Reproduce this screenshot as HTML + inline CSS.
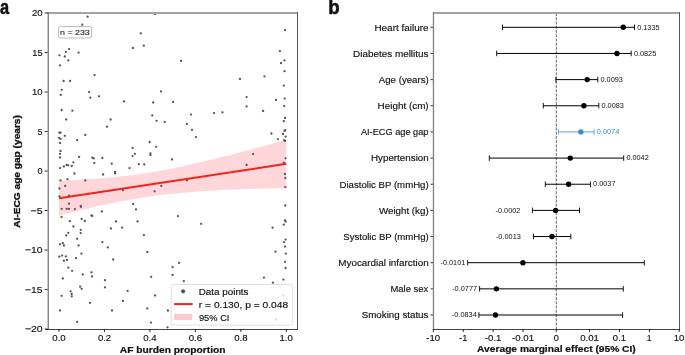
<!DOCTYPE html>
<html><head><meta charset="utf-8"><style>
html,body{margin:0;padding:0;background:#fff;}
body{width:685px;height:355px;overflow:hidden;}
svg{display:block;will-change:transform;font-family:"Liberation Sans",sans-serif;}
</style></head><body>
<svg width="685" height="355" viewBox="0 0 685 355">
<rect width="685" height="355" fill="#fff"/>
<polygon fill="#ffd6da" points="59.00,180.76 64.68,180.50 70.36,180.23 76.05,179.92 81.73,179.59 87.41,179.24 93.09,178.85 98.78,178.42 104.46,177.96 110.14,177.45 115.83,176.90 121.51,176.30 127.19,175.65 132.87,174.94 138.56,174.18 144.24,173.36 149.92,172.48 155.60,171.54 161.28,170.54 166.97,169.49 172.65,168.38 178.33,167.23 184.02,166.02 189.70,164.78 195.38,163.49 201.06,162.17 206.75,160.82 212.43,159.43 218.11,158.02 223.79,156.59 229.47,155.13 235.16,153.66 240.84,152.16 246.52,150.65 252.21,149.13 257.89,147.59 263.57,146.05 269.25,144.49 274.94,142.92 280.62,141.34 286.30,139.76 286.30,187.97 280.62,188.11 274.94,188.25 269.25,188.40 263.57,188.56 257.89,188.73 252.21,188.91 246.52,189.11 240.84,189.32 235.16,189.55 229.47,189.79 223.79,190.05 218.11,190.34 212.43,190.65 206.75,190.98 201.06,191.35 195.38,191.75 189.70,192.18 184.02,192.66 178.33,193.17 172.65,193.74 166.97,194.35 161.28,195.02 155.60,195.74 149.92,196.52 144.24,197.36 138.56,198.26 132.87,199.21 127.19,200.22 121.51,201.29 115.83,202.41 110.14,203.58 104.46,204.79 98.78,206.05 93.09,207.34 87.41,208.67 81.73,210.04 76.05,211.43 70.36,212.84 64.68,214.28 59.00,215.75"/>
<line x1="59.0" y1="198.25" x2="286.3" y2="163.86" stroke="#f5221a" stroke-width="2"/>
<g fill="#555">
<circle cx="87.6" cy="16.7" r="1.15"/>
<circle cx="82.2" cy="24.7" r="1.15"/>
<circle cx="140.8" cy="33.3" r="1.15"/>
<circle cx="69.0" cy="49.1" r="1.15"/>
<circle cx="65.9" cy="51.9" r="1.15"/>
<circle cx="78.6" cy="52.6" r="1.15"/>
<circle cx="59.4" cy="55.3" r="1.15"/>
<circle cx="64.8" cy="56.5" r="1.15"/>
<circle cx="132.9" cy="48.0" r="1.15"/>
<circle cx="143.8" cy="45.7" r="1.15"/>
<circle cx="68.3" cy="60.4" r="1.15"/>
<circle cx="60.0" cy="65.3" r="1.15"/>
<circle cx="155.1" cy="13.9" r="1.15"/>
<circle cx="181.0" cy="60.9" r="1.15"/>
<circle cx="285.0" cy="30.2" r="1.15"/>
<circle cx="279.9" cy="51.1" r="1.15"/>
<circle cx="284.5" cy="60.4" r="1.15"/>
<circle cx="281.0" cy="63.2" r="1.15"/>
<circle cx="94.6" cy="75.1" r="1.15"/>
<circle cx="63.6" cy="81.0" r="1.15"/>
<circle cx="70.1" cy="81.0" r="1.15"/>
<circle cx="61.7" cy="89.8" r="1.15"/>
<circle cx="60.8" cy="94.9" r="1.15"/>
<circle cx="89.2" cy="92.1" r="1.15"/>
<circle cx="90.3" cy="97.6" r="1.15"/>
<circle cx="99.0" cy="96.3" r="1.15"/>
<circle cx="124.1" cy="101.4" r="1.15"/>
<circle cx="61.7" cy="110.0" r="1.15"/>
<circle cx="72.4" cy="110.7" r="1.15"/>
<circle cx="66.2" cy="119.5" r="1.15"/>
<circle cx="110.6" cy="119.5" r="1.15"/>
<circle cx="240.0" cy="79.0" r="1.15"/>
<circle cx="161.0" cy="91.4" r="1.15"/>
<circle cx="153.2" cy="102.5" r="1.15"/>
<circle cx="173.2" cy="101.9" r="1.15"/>
<circle cx="152.3" cy="115.4" r="1.15"/>
<circle cx="191.0" cy="114.6" r="1.15"/>
<circle cx="214.0" cy="113.1" r="1.15"/>
<circle cx="222.5" cy="112.3" r="1.15"/>
<circle cx="284.5" cy="71.2" r="1.15"/>
<circle cx="264.4" cy="76.3" r="1.15"/>
<circle cx="283.8" cy="85.6" r="1.15"/>
<circle cx="246.6" cy="97.1" r="1.15"/>
<circle cx="276.0" cy="99.9" r="1.15"/>
<circle cx="284.8" cy="98.6" r="1.15"/>
<circle cx="246.6" cy="106.4" r="1.15"/>
<circle cx="284.2" cy="106.1" r="1.15"/>
<circle cx="263.1" cy="111.0" r="1.15"/>
<circle cx="285.0" cy="118.0" r="1.15"/>
<circle cx="156.6" cy="120.8" r="1.15"/>
<circle cx="164.7" cy="121.9" r="1.15"/>
<circle cx="107.0" cy="126.7" r="1.15"/>
<circle cx="59.3" cy="132.7" r="1.15"/>
<circle cx="60.5" cy="132.7" r="1.15"/>
<circle cx="64.8" cy="135.8" r="1.15"/>
<circle cx="85.3" cy="135.0" r="1.15"/>
<circle cx="59.0" cy="137.8" r="1.15"/>
<circle cx="60.5" cy="138.9" r="1.15"/>
<circle cx="77.2" cy="140.2" r="1.15"/>
<circle cx="60.0" cy="143.0" r="1.15"/>
<circle cx="132.6" cy="147.9" r="1.15"/>
<circle cx="60.5" cy="151.0" r="1.15"/>
<circle cx="60.0" cy="153.8" r="1.15"/>
<circle cx="134.9" cy="153.8" r="1.15"/>
<circle cx="60.0" cy="157.5" r="1.15"/>
<circle cx="79.1" cy="156.9" r="1.15"/>
<circle cx="92.3" cy="157.7" r="1.15"/>
<circle cx="93.8" cy="158.4" r="1.15"/>
<circle cx="102.4" cy="158.0" r="1.15"/>
<circle cx="132.6" cy="156.1" r="1.15"/>
<circle cx="94.3" cy="163.1" r="1.15"/>
<circle cx="111.7" cy="163.7" r="1.15"/>
<circle cx="138.8" cy="164.2" r="1.15"/>
<circle cx="144.2" cy="164.5" r="1.15"/>
<circle cx="73.4" cy="162.3" r="1.15"/>
<circle cx="60.0" cy="168.1" r="1.15"/>
<circle cx="63.9" cy="166.5" r="1.15"/>
<circle cx="66.7" cy="165.0" r="1.15"/>
<circle cx="68.3" cy="165.3" r="1.15"/>
<circle cx="71.8" cy="166.0" r="1.15"/>
<circle cx="129.5" cy="168.1" r="1.15"/>
<circle cx="74.5" cy="173.5" r="1.15"/>
<circle cx="103.1" cy="174.5" r="1.15"/>
<circle cx="115.1" cy="172.0" r="1.15"/>
<circle cx="115.1" cy="173.5" r="1.15"/>
<circle cx="186.9" cy="123.9" r="1.15"/>
<circle cx="192.0" cy="129.8" r="1.15"/>
<circle cx="195.9" cy="137.1" r="1.15"/>
<circle cx="149.7" cy="142.0" r="1.15"/>
<circle cx="156.2" cy="146.8" r="1.15"/>
<circle cx="150.4" cy="153.3" r="1.15"/>
<circle cx="150.4" cy="154.9" r="1.15"/>
<circle cx="172.1" cy="159.5" r="1.15"/>
<circle cx="283.8" cy="121.2" r="1.15"/>
<circle cx="271.4" cy="133.5" r="1.15"/>
<circle cx="284.5" cy="130.9" r="1.15"/>
<circle cx="285.3" cy="130.1" r="1.15"/>
<circle cx="283.0" cy="134.0" r="1.15"/>
<circle cx="285.6" cy="136.6" r="1.15"/>
<circle cx="277.9" cy="139.1" r="1.15"/>
<circle cx="284.1" cy="140.2" r="1.15"/>
<circle cx="285.0" cy="140.9" r="1.15"/>
<circle cx="253.1" cy="154.1" r="1.15"/>
<circle cx="285.6" cy="158.3" r="1.15"/>
<circle cx="246.6" cy="165.0" r="1.15"/>
<circle cx="283.8" cy="162.6" r="1.15"/>
<circle cx="285.0" cy="174.0" r="1.15"/>
<circle cx="60.5" cy="180.4" r="1.15"/>
<circle cx="67.5" cy="179.2" r="1.15"/>
<circle cx="85.3" cy="180.4" r="1.15"/>
<circle cx="65.2" cy="185.9" r="1.15"/>
<circle cx="59.4" cy="188.5" r="1.15"/>
<circle cx="59.4" cy="196.4" r="1.15"/>
<circle cx="69.0" cy="195.6" r="1.15"/>
<circle cx="123.0" cy="190.2" r="1.15"/>
<circle cx="69.0" cy="203.7" r="1.15"/>
<circle cx="80.7" cy="206.0" r="1.15"/>
<circle cx="81.0" cy="206.8" r="1.15"/>
<circle cx="61.7" cy="208.8" r="1.15"/>
<circle cx="66.7" cy="208.8" r="1.15"/>
<circle cx="69.0" cy="208.8" r="1.15"/>
<circle cx="74.9" cy="209.1" r="1.15"/>
<circle cx="133.1" cy="204.0" r="1.15"/>
<circle cx="136.0" cy="209.4" r="1.15"/>
<circle cx="101.9" cy="211.4" r="1.15"/>
<circle cx="61.6" cy="216.9" r="1.15"/>
<circle cx="91.5" cy="215.3" r="1.15"/>
<circle cx="92.3" cy="216.1" r="1.15"/>
<circle cx="69.8" cy="221.2" r="1.15"/>
<circle cx="81.7" cy="218.9" r="1.15"/>
<circle cx="84.8" cy="221.0" r="1.15"/>
<circle cx="115.9" cy="221.5" r="1.15"/>
<circle cx="137.6" cy="221.5" r="1.15"/>
<circle cx="73.4" cy="226.5" r="1.15"/>
<circle cx="80.7" cy="229.8" r="1.15"/>
<circle cx="110.9" cy="228.5" r="1.15"/>
<circle cx="122.1" cy="227.7" r="1.15"/>
<circle cx="186.9" cy="180.4" r="1.15"/>
<circle cx="161.3" cy="185.9" r="1.15"/>
<circle cx="154.6" cy="191.3" r="1.15"/>
<circle cx="178.0" cy="216.1" r="1.15"/>
<circle cx="201.1" cy="223.8" r="1.15"/>
<circle cx="285.3" cy="178.1" r="1.15"/>
<circle cx="285.3" cy="187.1" r="1.15"/>
<circle cx="285.3" cy="205.5" r="1.15"/>
<circle cx="285.0" cy="220.3" r="1.15"/>
<circle cx="285.6" cy="221.5" r="1.15"/>
<circle cx="283.8" cy="224.6" r="1.15"/>
<circle cx="272.6" cy="227.7" r="1.15"/>
<circle cx="80.7" cy="233.1" r="1.15"/>
<circle cx="68.3" cy="232.8" r="1.15"/>
<circle cx="66.2" cy="235.4" r="1.15"/>
<circle cx="77.1" cy="238.8" r="1.15"/>
<circle cx="143.9" cy="235.1" r="1.15"/>
<circle cx="60.0" cy="244.3" r="1.15"/>
<circle cx="62.8" cy="243.2" r="1.15"/>
<circle cx="63.9" cy="245.5" r="1.15"/>
<circle cx="78.6" cy="245.5" r="1.15"/>
<circle cx="102.4" cy="242.1" r="1.15"/>
<circle cx="107.8" cy="247.4" r="1.15"/>
<circle cx="81.4" cy="253.6" r="1.15"/>
<circle cx="59.3" cy="256.7" r="1.15"/>
<circle cx="62.1" cy="255.6" r="1.15"/>
<circle cx="65.9" cy="256.4" r="1.15"/>
<circle cx="76.0" cy="258.2" r="1.15"/>
<circle cx="63.9" cy="260.7" r="1.15"/>
<circle cx="67.0" cy="259.9" r="1.15"/>
<circle cx="113.2" cy="259.5" r="1.15"/>
<circle cx="68.3" cy="267.7" r="1.15"/>
<circle cx="72.1" cy="270.8" r="1.15"/>
<circle cx="91.5" cy="272.3" r="1.15"/>
<circle cx="92.0" cy="276.5" r="1.15"/>
<circle cx="82.7" cy="274.5" r="1.15"/>
<circle cx="62.8" cy="278.5" r="1.15"/>
<circle cx="105.0" cy="280.2" r="1.15"/>
<circle cx="147.3" cy="252.0" r="1.15"/>
<circle cx="179.1" cy="262.9" r="1.15"/>
<circle cx="172.6" cy="267.2" r="1.15"/>
<circle cx="172.6" cy="275.0" r="1.15"/>
<circle cx="151.2" cy="276.8" r="1.15"/>
<circle cx="183.8" cy="281.2" r="1.15"/>
<circle cx="285.6" cy="239.6" r="1.15"/>
<circle cx="284.1" cy="242.1" r="1.15"/>
<circle cx="285.0" cy="246.6" r="1.15"/>
<circle cx="275.5" cy="251.7" r="1.15"/>
<circle cx="285.8" cy="253.6" r="1.15"/>
<circle cx="285.0" cy="261.8" r="1.15"/>
<circle cx="285.6" cy="268.0" r="1.15"/>
<circle cx="263.9" cy="277.6" r="1.15"/>
<circle cx="283.4" cy="279.6" r="1.15"/>
<circle cx="272.9" cy="282.7" r="1.15"/>
<circle cx="80.2" cy="286.7" r="1.15"/>
<circle cx="81.7" cy="288.8" r="1.15"/>
<circle cx="105.0" cy="287.4" r="1.15"/>
<circle cx="70.6" cy="291.3" r="1.15"/>
<circle cx="71.7" cy="294.0" r="1.15"/>
<circle cx="71.7" cy="296.3" r="1.15"/>
<circle cx="61.6" cy="295.8" r="1.15"/>
<circle cx="127.6" cy="290.9" r="1.15"/>
<circle cx="90.0" cy="302.8" r="1.15"/>
<circle cx="123.0" cy="300.9" r="1.15"/>
<circle cx="60.0" cy="310.5" r="1.15"/>
<circle cx="112.0" cy="310.5" r="1.15"/>
<circle cx="77.2" cy="321.9" r="1.15"/>
<circle cx="155.1" cy="295.5" r="1.15"/>
<circle cx="147.3" cy="308.4" r="1.15"/>
<circle cx="167.9" cy="310.5" r="1.15"/>
<circle cx="150.9" cy="322.6" r="1.15"/>
<circle cx="167.5" cy="327.3" r="1.15"/>
<circle cx="283.4" cy="295.5" r="1.15"/>
<circle cx="276.0" cy="319.5" r="1.15"/>
</g>
<rect x="47" y="12" width="251" height="2" fill="#a3a3a3"/>
<rect x="47.6" y="12" width="1.3" height="318" fill="#777"/>
<rect x="297" y="12" width="1" height="318" fill="#555"/>
<rect x="45.5" y="329" width="252.5" height="1" fill="#444"/>
<line x1="44.6" y1="13.00" x2="47.6" y2="13.00" stroke="#000" stroke-width="0.8"/>
<text x="31.90" y="16.20" font-size="9.08" font-weight="normal" fill="#111" textLength="10.68" lengthAdjust="spacingAndGlyphs" stroke="#111" stroke-width="0.15">20</text>
<line x1="44.6" y1="52.50" x2="47.6" y2="52.50" stroke="#000" stroke-width="0.8"/>
<text x="32.18" y="55.70" font-size="9.08" font-weight="normal" fill="#111" textLength="10.42" lengthAdjust="spacingAndGlyphs" stroke="#111" stroke-width="0.15">15</text>
<line x1="44.6" y1="92.00" x2="47.6" y2="92.00" stroke="#000" stroke-width="0.8"/>
<text x="31.99" y="95.20" font-size="9.08" font-weight="normal" fill="#111" textLength="10.59" lengthAdjust="spacingAndGlyphs" stroke="#111" stroke-width="0.15">10</text>
<line x1="44.6" y1="131.50" x2="47.6" y2="131.50" stroke="#000" stroke-width="0.8"/>
<text x="37.77" y="134.70" font-size="9.08" font-weight="normal" fill="#111" textLength="4.79" lengthAdjust="spacingAndGlyphs" stroke="#111" stroke-width="0.15">5</text>
<line x1="44.6" y1="171.00" x2="47.6" y2="171.00" stroke="#000" stroke-width="0.8"/>
<text x="37.47" y="174.20" font-size="9.08" font-weight="normal" fill="#111" textLength="5.09" lengthAdjust="spacingAndGlyphs" stroke="#111" stroke-width="0.15">0</text>
<line x1="44.6" y1="210.50" x2="47.6" y2="210.50" stroke="#000" stroke-width="0.8"/>
<text x="30.58" y="213.70" font-size="9.08" font-weight="normal" fill="#111" textLength="12.05" lengthAdjust="spacingAndGlyphs" stroke="#111" stroke-width="0.15">−5</text>
<line x1="44.6" y1="250.00" x2="47.6" y2="250.00" stroke="#000" stroke-width="0.8"/>
<text x="24.90" y="253.20" font-size="9.08" font-weight="normal" fill="#111" textLength="17.71" lengthAdjust="spacingAndGlyphs" stroke="#111" stroke-width="0.15">−10</text>
<line x1="44.6" y1="289.50" x2="47.6" y2="289.50" stroke="#000" stroke-width="0.8"/>
<text x="25.07" y="292.70" font-size="9.08" font-weight="normal" fill="#111" textLength="17.55" lengthAdjust="spacingAndGlyphs" stroke="#111" stroke-width="0.15">−15</text>
<line x1="44.6" y1="329.00" x2="47.6" y2="329.00" stroke="#000" stroke-width="0.8"/>
<text x="24.90" y="332.20" font-size="9.08" font-weight="normal" fill="#111" textLength="17.71" lengthAdjust="spacingAndGlyphs" stroke="#111" stroke-width="0.15">−20</text>
<line x1="59.00" y1="329.1" x2="59.00" y2="332.1" stroke="#000" stroke-width="0.8"/>
<text x="52.30" y="341.40" font-size="9.08" font-weight="normal" fill="#111" textLength="13.38" lengthAdjust="spacingAndGlyphs" stroke="#111" stroke-width="0.15">0.0</text>
<line x1="104.46" y1="329.1" x2="104.46" y2="332.1" stroke="#000" stroke-width="0.8"/>
<text x="97.91" y="341.40" font-size="9.08" font-weight="normal" fill="#111" textLength="13.20" lengthAdjust="spacingAndGlyphs" stroke="#111" stroke-width="0.15">0.2</text>
<line x1="149.92" y1="329.1" x2="149.92" y2="332.1" stroke="#000" stroke-width="0.8"/>
<text x="143.18" y="341.40" font-size="9.08" font-weight="normal" fill="#111" textLength="13.37" lengthAdjust="spacingAndGlyphs" stroke="#111" stroke-width="0.15">0.4</text>
<line x1="195.38" y1="329.1" x2="195.38" y2="332.1" stroke="#000" stroke-width="0.8"/>
<text x="188.67" y="341.40" font-size="9.08" font-weight="normal" fill="#111" textLength="13.45" lengthAdjust="spacingAndGlyphs" stroke="#111" stroke-width="0.15">0.6</text>
<line x1="240.84" y1="329.1" x2="240.84" y2="332.1" stroke="#000" stroke-width="0.8"/>
<text x="234.15" y="341.40" font-size="9.08" font-weight="normal" fill="#111" textLength="13.40" lengthAdjust="spacingAndGlyphs" stroke="#111" stroke-width="0.15">0.8</text>
<line x1="286.30" y1="329.1" x2="286.30" y2="332.1" stroke="#000" stroke-width="0.8"/>
<text x="279.46" y="341.40" font-size="9.08" font-weight="normal" fill="#111" textLength="13.32" lengthAdjust="spacingAndGlyphs" stroke="#111" stroke-width="0.15">1.0</text>
<text x="119.87" y="352.80" font-size="9.08" font-weight="bold" fill="#111" textLength="105.64" lengthAdjust="spacingAndGlyphs" stroke="#111" stroke-width="0.2">AF burden proportion</text>
<text fill="#111" stroke="#111" stroke-width="0.3" transform="translate(20.0,227.55) rotate(-90)" x="-0.25" y="0" font-size="9.08" font-weight="bold" textLength="112.67" lengthAdjust="spacingAndGlyphs">AI-ECG age gap (years)</text>
<rect x="58.5" y="26.5" width="33.2" height="11.5" rx="2" ry="2" fill="#fff" fill-opacity="0.85" stroke="#b5b5b5" stroke-width="0.9"/>
<text x="60.13" y="34.90" font-size="7.98" font-weight="normal" fill="#2a2a2a" textLength="29.64" lengthAdjust="spacingAndGlyphs" stroke="#2a2a2a" stroke-width="0.15">n = 233</text>
<rect x="171.2" y="284.5" width="121.2" height="40.6" rx="2" ry="2" fill="#fff" fill-opacity="0.8" stroke="#dcdcdc" stroke-width="0.9"/>
<circle cx="183.1" cy="291.3" r="2.1" fill="#555"/>
<line x1="174.1" y1="304.1" x2="192.6" y2="304.1" stroke="#f5221a" stroke-width="2"/>
<rect x="174.1" y="313.8" width="18.2" height="6.2" fill="#ffc8cd"/>
<text x="198.69" y="294.80" font-size="9.08" font-weight="normal" fill="#111" textLength="49.85" lengthAdjust="spacingAndGlyphs" stroke="#111" stroke-width="0.15">Data points</text>
<text x="198.84" y="307.60" font-size="9.08" font-weight="normal" fill="#111" textLength="89.31" lengthAdjust="spacingAndGlyphs" stroke="#111" stroke-width="0.15">r = 0.130, p = 0.048</text>
<text x="198.96" y="320.50" font-size="9.08" font-weight="normal" fill="#111" textLength="30.49" lengthAdjust="spacingAndGlyphs" stroke="#111" stroke-width="0.15">95% CI</text>
<text x="0.06" y="13.60" font-size="19.32" font-weight="bold" fill="#111" textLength="9.14" lengthAdjust="spacingAndGlyphs" stroke="#111" stroke-width="0.5">a</text>
<line x1="556.3" y1="13" x2="556.3" y2="329" stroke="#333" stroke-width="0.75" stroke-dasharray="2.96 1.28"/>
<line x1="502.50" y1="27.30" x2="634.50" y2="27.30" stroke="#000" stroke-width="1.0"/>
<line x1="502.50" y1="24.50" x2="502.50" y2="30.10" stroke="#000" stroke-width="0.9"/>
<line x1="634.50" y1="24.50" x2="634.50" y2="30.10" stroke="#000" stroke-width="0.9"/>
<circle cx="623.22" cy="27.30" r="2.7" fill="#000"/>
<text x="637.21" y="29.50" font-size="6.81" font-weight="normal" fill="#111" textLength="22.32" lengthAdjust="spacingAndGlyphs" stroke="none">0.1335</text>
<line x1="430.5" y1="27.30" x2="433.3" y2="27.30" stroke="#000" stroke-width="0.8"/>
<text x="374.43" y="30.60" font-size="9.08" font-weight="normal" fill="#111" textLength="54.11" lengthAdjust="spacingAndGlyphs" stroke="#111" stroke-width="0.15">Heart failure</text>
<line x1="496.70" y1="53.45" x2="631.20" y2="53.45" stroke="#000" stroke-width="1.0"/>
<line x1="496.70" y1="50.66" x2="496.70" y2="56.25" stroke="#000" stroke-width="0.9"/>
<line x1="631.20" y1="50.66" x2="631.20" y2="56.25" stroke="#000" stroke-width="0.9"/>
<circle cx="616.96" cy="53.45" r="2.7" fill="#000"/>
<text x="633.91" y="55.66" font-size="6.81" font-weight="normal" fill="#111" textLength="22.32" lengthAdjust="spacingAndGlyphs" stroke="none">0.0825</text>
<line x1="430.5" y1="53.45" x2="433.3" y2="53.45" stroke="#000" stroke-width="0.8"/>
<text x="353.07" y="56.75" font-size="9.08" font-weight="normal" fill="#111" textLength="75.38" lengthAdjust="spacingAndGlyphs" stroke="#111" stroke-width="0.15">Diabetes mellitus</text>
<line x1="555.90" y1="79.61" x2="597.80" y2="79.61" stroke="#000" stroke-width="1.0"/>
<line x1="555.90" y1="76.81" x2="555.90" y2="82.41" stroke="#000" stroke-width="0.9"/>
<line x1="597.80" y1="76.81" x2="597.80" y2="82.41" stroke="#000" stroke-width="0.9"/>
<circle cx="587.22" cy="79.61" r="2.7" fill="#000"/>
<text x="600.51" y="81.81" font-size="6.81" font-weight="normal" fill="#111" textLength="22.39" lengthAdjust="spacingAndGlyphs" stroke="none">0.0093</text>
<line x1="430.5" y1="79.61" x2="433.3" y2="79.61" stroke="#000" stroke-width="0.8"/>
<text x="378.84" y="82.91" font-size="9.08" font-weight="normal" fill="#111" textLength="49.85" lengthAdjust="spacingAndGlyphs" stroke="#111" stroke-width="0.15">Age (years)</text>
<line x1="543.30" y1="105.77" x2="598.80" y2="105.77" stroke="#000" stroke-width="1.0"/>
<line x1="543.30" y1="102.97" x2="543.30" y2="108.56" stroke="#000" stroke-width="0.9"/>
<line x1="598.80" y1="102.97" x2="598.80" y2="108.56" stroke="#000" stroke-width="0.9"/>
<circle cx="583.89" cy="105.77" r="2.7" fill="#000"/>
<text x="601.51" y="107.97" font-size="6.81" font-weight="normal" fill="#111" textLength="22.39" lengthAdjust="spacingAndGlyphs" stroke="none">0.0083</text>
<line x1="430.5" y1="105.77" x2="433.3" y2="105.77" stroke="#000" stroke-width="0.8"/>
<text x="377.59" y="109.06" font-size="9.08" font-weight="normal" fill="#111" textLength="51.10" lengthAdjust="spacingAndGlyphs" stroke="#111" stroke-width="0.15">Height (cm)</text>
<line x1="558.40" y1="131.92" x2="594.10" y2="131.92" stroke="#5ba3d0" stroke-width="1.0"/>
<line x1="558.40" y1="129.12" x2="558.40" y2="134.72" stroke="#5ba3d0" stroke-width="0.9"/>
<line x1="594.10" y1="129.12" x2="594.10" y2="134.72" stroke="#5ba3d0" stroke-width="0.9"/>
<circle cx="580.90" cy="131.92" r="2.7" fill="#3d8fc4"/>
<text x="596.81" y="134.12" font-size="6.81" font-weight="normal" fill="#3d8fc4" textLength="22.42" lengthAdjust="spacingAndGlyphs" stroke="none">0.0074</text>
<line x1="430.5" y1="131.92" x2="433.3" y2="131.92" stroke="#000" stroke-width="0.8"/>
<text x="360.93" y="135.22" font-size="9.08" font-weight="normal" fill="#111" textLength="67.54" lengthAdjust="spacingAndGlyphs" stroke="#111" stroke-width="0.15">AI-ECG age gap</text>
<line x1="489.30" y1="158.08" x2="623.70" y2="158.08" stroke="#000" stroke-width="1.0"/>
<line x1="489.30" y1="155.28" x2="489.30" y2="160.88" stroke="#000" stroke-width="0.9"/>
<line x1="623.70" y1="155.28" x2="623.70" y2="160.88" stroke="#000" stroke-width="0.9"/>
<circle cx="570.26" cy="158.08" r="2.7" fill="#000"/>
<text x="626.41" y="160.28" font-size="6.81" font-weight="normal" fill="#111" textLength="22.31" lengthAdjust="spacingAndGlyphs" stroke="none">0.0042</text>
<line x1="430.5" y1="158.08" x2="433.3" y2="158.08" stroke="#000" stroke-width="0.8"/>
<text x="370.98" y="161.38" font-size="9.08" font-weight="normal" fill="#111" textLength="57.75" lengthAdjust="spacingAndGlyphs" stroke="#111" stroke-width="0.15">Hypertension</text>
<line x1="545.30" y1="184.23" x2="590.40" y2="184.23" stroke="#000" stroke-width="1.0"/>
<line x1="545.30" y1="181.43" x2="545.30" y2="187.03" stroke="#000" stroke-width="0.9"/>
<line x1="590.40" y1="181.43" x2="590.40" y2="187.03" stroke="#000" stroke-width="0.9"/>
<circle cx="568.60" cy="184.23" r="2.7" fill="#000"/>
<text x="593.11" y="186.43" font-size="6.81" font-weight="normal" fill="#111" textLength="22.39" lengthAdjust="spacingAndGlyphs" stroke="none">0.0037</text>
<line x1="430.5" y1="184.23" x2="433.3" y2="184.23" stroke="#000" stroke-width="0.8"/>
<text x="339.53" y="187.53" font-size="9.08" font-weight="normal" fill="#111" textLength="89.16" lengthAdjust="spacingAndGlyphs" stroke="#111" stroke-width="0.15">Diastolic BP (mmHg)</text>
<line x1="532.40" y1="210.39" x2="579.50" y2="210.39" stroke="#000" stroke-width="1.0"/>
<line x1="532.40" y1="207.59" x2="532.40" y2="213.19" stroke="#000" stroke-width="0.9"/>
<line x1="579.50" y1="207.59" x2="579.50" y2="213.19" stroke="#000" stroke-width="0.9"/>
<circle cx="555.64" cy="210.39" r="2.7" fill="#000"/>
<text x="495.56" y="212.59" font-size="6.81" font-weight="normal" fill="#111" textLength="24.82" lengthAdjust="spacingAndGlyphs" stroke="none">-0.0002</text>
<line x1="430.5" y1="210.39" x2="433.3" y2="210.39" stroke="#000" stroke-width="0.8"/>
<text x="378.94" y="213.69" font-size="9.08" font-weight="normal" fill="#111" textLength="49.74" lengthAdjust="spacingAndGlyphs" stroke="#111" stroke-width="0.15">Weight (kg)</text>
<line x1="533.50" y1="236.54" x2="570.80" y2="236.54" stroke="#000" stroke-width="1.0"/>
<line x1="533.50" y1="233.74" x2="533.50" y2="239.34" stroke="#000" stroke-width="0.9"/>
<line x1="570.80" y1="233.74" x2="570.80" y2="239.34" stroke="#000" stroke-width="0.9"/>
<circle cx="551.98" cy="236.54" r="2.7" fill="#000"/>
<text x="495.93" y="238.74" font-size="6.81" font-weight="normal" fill="#111" textLength="24.90" lengthAdjust="spacingAndGlyphs" stroke="none">-0.0013</text>
<line x1="430.5" y1="236.54" x2="433.3" y2="236.54" stroke="#000" stroke-width="0.8"/>
<text x="343.35" y="239.84" font-size="9.08" font-weight="normal" fill="#111" textLength="85.32" lengthAdjust="spacingAndGlyphs" stroke="#111" stroke-width="0.15">Systolic BP (mmHg)</text>
<line x1="467.70" y1="262.69" x2="644.30" y2="262.69" stroke="#000" stroke-width="1.0"/>
<line x1="467.70" y1="259.89" x2="467.70" y2="265.50" stroke="#000" stroke-width="0.9"/>
<line x1="644.30" y1="259.89" x2="644.30" y2="265.50" stroke="#000" stroke-width="0.9"/>
<circle cx="522.93" cy="262.69" r="2.7" fill="#000"/>
<text x="440.51" y="264.89" font-size="6.81" font-weight="normal" fill="#111" textLength="24.85" lengthAdjust="spacingAndGlyphs" stroke="none">-0.0101</text>
<line x1="430.5" y1="262.69" x2="433.3" y2="262.69" stroke="#000" stroke-width="0.8"/>
<text x="338.26" y="266.00" font-size="9.08" font-weight="normal" fill="#111" textLength="90.47" lengthAdjust="spacingAndGlyphs" stroke="#111" stroke-width="0.15">Myocardial infarction</text>
<line x1="479.60" y1="288.85" x2="623.30" y2="288.85" stroke="#000" stroke-width="1.0"/>
<line x1="479.60" y1="286.05" x2="479.60" y2="291.65" stroke="#000" stroke-width="0.9"/>
<line x1="623.30" y1="286.05" x2="623.30" y2="291.65" stroke="#000" stroke-width="0.9"/>
<circle cx="496.41" cy="288.85" r="2.7" fill="#000"/>
<text x="452.18" y="291.05" font-size="6.81" font-weight="normal" fill="#111" textLength="24.90" lengthAdjust="spacingAndGlyphs" stroke="none">-0.0777</text>
<line x1="430.5" y1="288.85" x2="433.3" y2="288.85" stroke="#000" stroke-width="0.8"/>
<text x="390.43" y="292.15" font-size="9.08" font-weight="normal" fill="#111" textLength="37.78" lengthAdjust="spacingAndGlyphs" stroke="#111" stroke-width="0.15">Male sex</text>
<line x1="478.90" y1="315.01" x2="622.60" y2="315.01" stroke="#000" stroke-width="1.0"/>
<line x1="478.90" y1="312.21" x2="478.90" y2="317.81" stroke="#000" stroke-width="0.9"/>
<line x1="622.60" y1="312.21" x2="622.60" y2="317.81" stroke="#000" stroke-width="0.9"/>
<circle cx="495.49" cy="315.01" r="2.7" fill="#000"/>
<text x="451.88" y="317.21" font-size="6.81" font-weight="normal" fill="#111" textLength="24.93" lengthAdjust="spacingAndGlyphs" stroke="none">-0.0834</text>
<line x1="430.5" y1="315.01" x2="433.3" y2="315.01" stroke="#000" stroke-width="0.8"/>
<text x="361.73" y="318.31" font-size="9.08" font-weight="normal" fill="#111" textLength="66.71" lengthAdjust="spacingAndGlyphs" stroke="#111" stroke-width="0.15">Smoking status</text>
<rect x="433" y="12" width="247" height="2" fill="#a3a3a3"/>
<rect x="432.8" y="12" width="1.3" height="318" fill="#808080"/>
<rect x="679" y="12" width="1" height="318" fill="#555"/>
<rect x="433" y="329" width="247" height="1" fill="#444"/>
<line x1="433.30" y1="329.1" x2="433.30" y2="332.1" stroke="#000" stroke-width="0.8"/>
<text x="426.29" y="341.20" font-size="9.08" font-weight="normal" fill="#111" textLength="13.95" lengthAdjust="spacingAndGlyphs" stroke="#111" stroke-width="0.15">-10</text>
<line x1="463.22" y1="329.1" x2="463.22" y2="332.1" stroke="#000" stroke-width="0.8"/>
<text x="459.09" y="341.20" font-size="9.08" font-weight="normal" fill="#111" textLength="8.30" lengthAdjust="spacingAndGlyphs" stroke="#111" stroke-width="0.15">-1</text>
<line x1="493.14" y1="329.1" x2="493.14" y2="332.1" stroke="#000" stroke-width="0.8"/>
<text x="484.86" y="341.20" font-size="9.08" font-weight="normal" fill="#111" textLength="16.57" lengthAdjust="spacingAndGlyphs" stroke="#111" stroke-width="0.15">-0.1</text>
<line x1="523.06" y1="329.1" x2="523.06" y2="332.1" stroke="#000" stroke-width="0.8"/>
<text x="512.02" y="341.20" font-size="9.08" font-weight="normal" fill="#111" textLength="22.11" lengthAdjust="spacingAndGlyphs" stroke="#111" stroke-width="0.15">-0.01</text>
<line x1="556.30" y1="329.1" x2="556.30" y2="332.1" stroke="#000" stroke-width="0.8"/>
<text x="553.75" y="341.20" font-size="9.08" font-weight="normal" fill="#111" textLength="5.09" lengthAdjust="spacingAndGlyphs" stroke="#111" stroke-width="0.15">0</text>
<line x1="589.54" y1="329.1" x2="589.54" y2="332.1" stroke="#000" stroke-width="0.8"/>
<text x="580.21" y="341.20" font-size="9.08" font-weight="normal" fill="#111" textLength="18.76" lengthAdjust="spacingAndGlyphs" stroke="#111" stroke-width="0.15">0.01</text>
<line x1="619.46" y1="329.1" x2="619.46" y2="332.1" stroke="#000" stroke-width="0.8"/>
<text x="612.88" y="341.20" font-size="9.08" font-weight="normal" fill="#111" textLength="13.25" lengthAdjust="spacingAndGlyphs" stroke="#111" stroke-width="0.15">0.1</text>
<line x1="649.38" y1="329.1" x2="649.38" y2="332.1" stroke="#000" stroke-width="0.8"/>
<text x="646.85" y="341.20" font-size="9.08" font-weight="normal" fill="#111" textLength="4.84" lengthAdjust="spacingAndGlyphs" stroke="#111" stroke-width="0.15">1</text>
<line x1="679.30" y1="329.1" x2="679.30" y2="332.1" stroke="#000" stroke-width="0.8"/>
<text x="673.84" y="341.20" font-size="9.08" font-weight="normal" fill="#111" textLength="10.59" lengthAdjust="spacingAndGlyphs" stroke="#111" stroke-width="0.15">10</text>
<text x="477.12" y="352.20" font-size="9.08" font-weight="bold" fill="#111" textLength="158.61" lengthAdjust="spacingAndGlyphs" stroke="#111" stroke-width="0.2">Average marginal effect (95% CI)</text>
<text x="328.19" y="13.60" font-size="19.32" font-weight="bold" fill="#111" textLength="11.37" lengthAdjust="spacingAndGlyphs" stroke="#111" stroke-width="0.5">b</text>
</svg>
</body></html>
